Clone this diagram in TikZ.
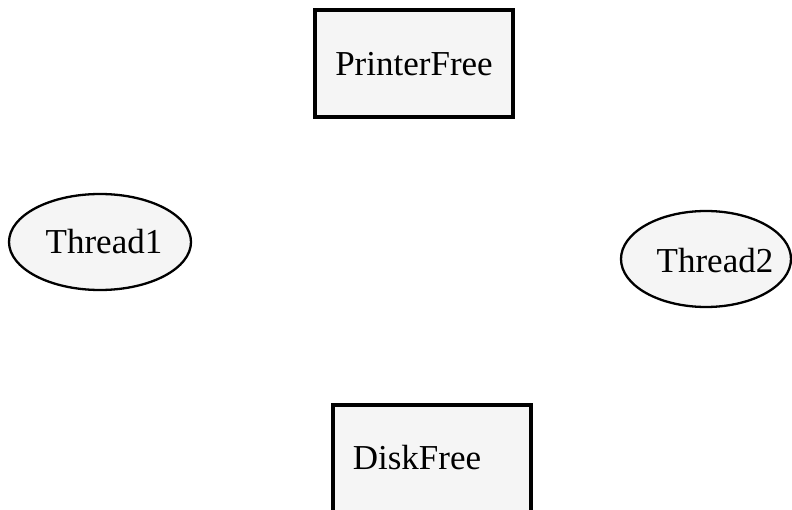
\documentclass[tikz,border=0pt]{standalone}
\usepackage{fontspec}
\setmainfont{Liberation Serif}
\newfontfamily\labelfont{Liberation Serif}
\usetikzlibrary{shapes.geometric}
\definecolor{nodefill}{HTML}{F5F5F5}
\tikzset{
  place/.style={draw=black, line width=3.6pt, fill=nodefill, rectangle, inner sep=0pt},
  thread/.style={draw=black, line width=2.3pt, fill=nodefill, ellipse, inner sep=0pt},
  label text/.style={font=\labelfont\fontsize{35}{40}\selectfont, inner sep=0pt, anchor=center}
}
\begin{document}
\begin{tikzpicture}[x=1pt, y=-1pt]
  \useasboundingbox (0,0) rectangle (792,510);
  % resources (rectangles)
  \node[place, minimum width=198pt, minimum height=107pt] (printer) at (414,63.5) {};
  \node[place, minimum width=198pt, minimum height=125pt] (disk) at (432,467.5) {};
  % threads (ellipses)
  \node[thread, minimum width=182pt, minimum height=96pt] (t1) at (100,242) {};
  \node[thread, minimum width=170pt, minimum height=96pt] (t2) at (706,259) {};
  % labels
  \node[label text] (printerlbl) at (414,64) {PrinterFree};
  \node[label text] (disklbl) at (417,458) {DiskFree};
  \node[label text] (t1lbl) at (104,242) {Thread1};
  \node[label text] (t2lbl) at (715,261) {Thread2};
\end{tikzpicture}
\end{document}
